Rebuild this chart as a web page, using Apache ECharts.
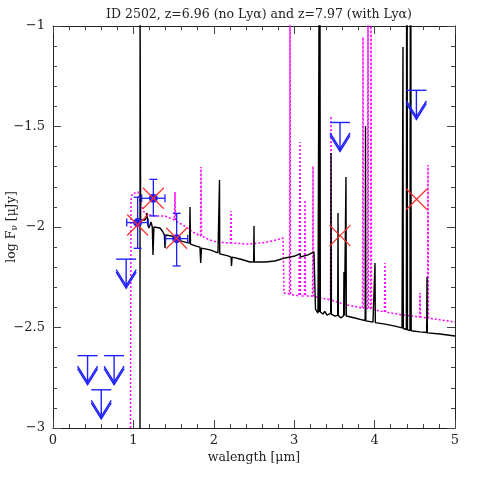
<!DOCTYPE html>
<html>
<head>
<meta charset="utf-8">
<script src="https://cdn.jsdelivr.net/npm/echarts@6/dist/echarts.min.js"></script>
<style>
  html, body { margin: 0; padding: 0; background: #fff; }
  #main { width: 480px; height: 480px; }
</style>
</head>
<body>
<div id="main"></div>
<script>
// model SED, z=6.96 (no Lya) -- [wavelength um, log Fnu]
const sedNoLya = [
  [1.082, -3.1], [1.083, -0.9], [1.090, -1.965], [1.144, -1.965], [1.160, -1.95], [1.169, -1.930],
  [1.180, -1.99], [1.194, -2.005], [1.219, -1.975], [1.235, -2.0], [1.244, -2.139], [1.255, -2.0],
  [1.269, -1.995], [1.331, -2.005], [1.368, -2.025], [1.385, -2.04], [1.393, -2.104], [1.400, -2.04],
  [1.418, -2.035], [1.480, -2.045], [1.555, -2.065], [1.642, -2.075], [1.698, -2.080], [1.704, -1.900],
  [1.710, -2.085], [1.779, -2.095], [1.828, -2.100], [1.837, -2.179], [1.847, -2.105], [1.953, -2.114],
  [2.052, -2.129], [2.068, -2.13], [2.071, -1.766], [2.074, -2.134], [2.177, -2.144], [2.215, -2.15],
  [2.220, -2.194], [2.228, -2.15], [2.326, -2.159], [2.450, -2.174], [2.496, -2.174], [2.500, -1.995],
  [2.504, -2.174], [2.637, -2.174], [2.761, -2.169], [2.886, -2.154], [3.010, -2.144], [3.072, -2.134],
  [3.078, -2.149], [3.172, -2.139], [3.246, -2.124], [3.258, -2.124], [3.265, -2.408], [3.296, -2.428],
  [3.306, -2.425], [3.309, -0.9], [3.313, -2.423], [3.318, -2.423], [3.321, -0.9], [3.325, -2.423],
  [3.358, -2.433], [3.380, -2.42], [3.408, -2.438], [3.454, -2.43], [3.458, -1.632], [3.462, -2.433],
  [3.507, -2.443], [3.541, -2.44], [3.545, -1.930], [3.549, -2.44], [3.582, -2.453], [3.615, -2.44],
  [3.619, -2.224], [3.625, -2.44], [3.640, -2.44], [3.644, -1.751], [3.648, -2.443], [3.669, -2.443],
  [3.756, -2.453], [3.856, -2.463], [3.883, -2.465], [3.887, -1.498], [3.891, -2.467], [3.980, -2.473],
  [4.001, -2.475], [4.005, -2.179], [4.009, -2.476], [4.030, -2.478], [4.129, -2.483], [4.254, -2.493],
  [4.341, -2.502], [4.349, -2.502], [4.353, -1.104], [4.357, -2.505], [4.395, -2.51], [4.398, -0.9],
  [4.402, -2.51], [4.405, -0.9], [4.409, -2.512], [4.440, -2.515], [4.444, -0.9], [4.448, -2.515],
  [4.451, -0.9], [4.455, -2.516], [4.565, -2.522], [4.648, -2.525], [4.652, -2.249], [4.656, -2.527],
  [4.813, -2.532], [5.0, -2.542]
];

// model SED, z=7.97 (with Lya)
const sedLya = [
  [0.964, -3.1], [0.970, -1.866], [0.985, -1.835], [1.007, -1.826], [1.057, -1.826], [1.095, -1.891],
  [1.144, -1.935], [1.269, -1.945], [1.393, -1.945], [1.511, -1.965], [1.517, -1.826], [1.523, -1.970],
  [1.617, -1.990], [1.741, -2.025], [1.835, -2.045], [1.841, -1.701], [1.847, -2.045], [1.953, -2.065],
  [2.040, -2.075], [2.208, -2.080], [2.214, -1.920], [2.220, -2.080], [2.450, -2.085], [2.662, -2.075],
  [2.823, -2.060], [2.861, -2.055], [2.873, -2.328], [2.942, -2.333], [2.948, -0.9], [2.954, -2.335],
  [3.060, -2.343], [3.072, -1.577], [3.078, -2.343], [3.128, -2.343], [3.134, -1.866], [3.140, -2.343],
  [3.228, -2.343], [3.234, -1.697], [3.240, -2.345], [3.451, -2.363], [3.458, -1.448], [3.464, -2.365],
  [3.657, -2.388], [3.849, -2.403], [3.856, -1.055], [3.862, -2.403], [3.912, -2.405], [3.918, -0.9],
  [3.924, -2.406], [3.949, -2.407], [3.955, -0.9], [3.961, -2.408], [4.123, -2.423], [4.129, -2.179],
  [4.135, -2.423], [4.353, -2.438], [4.558, -2.448], [4.565, -2.328], [4.571, -2.448], [4.658, -2.453],
  [4.664, -1.692], [4.670, -2.453], [5.0, -2.473]
];

// photometry: x, y, xlo, xhi, ylo, yhi
const detections = [
  [1.053, -1.978, 0.917, 1.185, -2.106, -1.852],
  [1.248, -1.857, 1.103, 1.393, -1.945, -1.763],
  [1.538, -2.058, 1.400, 1.675, -2.194, -1.932]
];

// upper limits: x, y
const upperLimits = [
  [0.43, -2.64], [0.76, -2.64], [0.60, -2.81], [0.91, -2.16], [3.57, -1.48], [4.52, -1.32]
];

// model fluxes in the bands (red crosses)
const modelFlux = [
  [1.053, -1.99], [1.248, -1.857], [1.538, -2.056], [3.57, -2.043], [4.523, -1.862]
];

const xTicks = [0, 1, 2, 3, 4, 5];
const yTicks = [-3, -2.5, -2, -1.5, -1];

const chart = echarts.init(document.getElementById('main'));
const font = 'DejaVu Serif';
const blue = '#1f1fff';
const red = '#ff2a2a';

function frameAxis(extra) {
  return Object.assign({
    type: 'value',
    axisLine: { show: true, onZero: false, lineStyle: { color: '#222', width: 1 } },
    axisTick: { show: true, inside: true, length: 8, lineStyle: { color: '#444' } },
    minorTick: { show: true, splitNumber: 5, length: 4, lineStyle: { color: '#444' } },
    splitLine: { show: false },
    minorSplitLine: { show: false }
  }, extra);
}

const fmt = v => String(v).replace('-', '\u2212');

const option = {
  animation: false,
  backgroundColor: '#fff',
  title: {
    text: 'ID 2502, z=6.96 (no Ly\u03b1) and z=7.97 (with Ly\u03b1)',
    left: 254, top: 3, textAlign: 'center',
    textStyle: { fontFamily: font, fontSize: 12.5, fontWeight: 'normal', color: '#222' }
  },
  grid: { left: 53, right: 25, top: 26, bottom: 52, outerBoundsMode: 'none' },
  xAxis: [
    frameAxis({
      min: xTicks[0], max: xTicks[xTicks.length - 1], interval: 1, position: 'bottom',
      axisLabel: { fontFamily: font, fontSize: 13, color: '#222', margin: 6, formatter: fmt },
      name: 'walength [\u03bcm]', nameLocation: 'middle', nameGap: 23, nameMoveOverlap: false,
      nameTextStyle: { fontFamily: font, fontSize: 12.5, color: '#222' }
    }),
    frameAxis({
      min: xTicks[0], max: xTicks[xTicks.length - 1], interval: 1, position: 'top',
      axisLabel: { show: false }
    })
  ],
  yAxis: [
    frameAxis({
      min: yTicks[0], max: yTicks[yTicks.length - 1], interval: 0.5, position: 'left',
      axisLabel: { fontFamily: font, fontSize: 13, color: '#222', margin: 8, formatter: fmt },
      name: '{n|log F}{s|\u03bd}{n| [\u03bcJy]}', nameLocation: 'middle', nameGap: 34, nameMoveOverlap: false,
      nameTextStyle: {
        rich: {
          n: { fontFamily: font, fontSize: 12.5, color: '#222' },
          s: { fontFamily: font, fontSize: 9, color: '#222', verticalAlign: 'bottom', padding: [6, 0, 0, 0] }
        }
      }
    }),
    frameAxis({
      min: yTicks[0], max: yTicks[yTicks.length - 1], interval: 0.5, position: 'right',
      axisLabel: { show: false }
    })
  ],
  series: [
    {
      type: 'line', data: sedLya, showSymbol: false, clip: true, z: 2,
      lineStyle: { color: '#ff00ff', width: 1.5, type: [2, 2] }
    },
    {
      type: 'line', data: sedNoLya, showSymbol: false, clip: true, z: 3,
      lineStyle: { color: '#000', width: 1.4 }
    },
    {
      type: 'custom', data: detections, z: 5,
      renderItem(params, api) {
        const x = api.value(0), y = api.value(1);
        const c = api.coord([x, y]);
        const l = api.coord([api.value(2), y]), r = api.coord([api.value(3), y]);
        const b = api.coord([x, api.value(4)]), t = api.coord([x, api.value(5)]);
        const st = { stroke: blue, lineWidth: 1.3 };
        const cap = 4;
        const ln = (x1, y1, x2, y2) => ({ type: 'line', shape: { x1, y1, x2, y2 }, style: st });
        return {
          type: 'group', children: [
            ln(l[0], c[1], r[0], c[1]),
            ln(c[0], t[1], c[0], b[1]),
            ln(l[0], c[1] - cap, l[0], c[1] + cap),
            ln(r[0], c[1] - cap, r[0], c[1] + cap),
            ln(c[0] - cap, t[1], c[0] + cap, t[1]),
            ln(c[0] - cap, b[1], c[0] + cap, b[1]),
            { type: 'circle', shape: { cx: c[0], cy: c[1], r: 4.5 }, style: { fill: blue } }
          ]
        };
      }
    },
    {
      type: 'custom', data: upperLimits, z: 5,
      renderItem(params, api) {
        const c = api.coord([api.value(0), api.value(1)]);
        const st = { stroke: blue, lineWidth: 1.4, fill: null };
        const v = dy => ({
          type: 'polyline',
          shape: { points: [[c[0] - 10, c[1] + 13 + dy], [c[0], c[1] + 29 + dy], [c[0] + 10, c[1] + 13 + dy]] },
          style: st
        });
        return {
          type: 'group', children: [
            { type: 'line', shape: { x1: c[0] - 10, y1: c[1], x2: c[0] + 10, y2: c[1] }, style: st },
            { type: 'line', shape: { x1: c[0], y1: c[1], x2: c[0], y2: c[1] + 29 }, style: st },
            v(0), v(-2.5)
          ]
        };
      }
    },
    {
      type: 'custom', data: modelFlux, z: 6,
      renderItem(params, api) {
        const c = api.coord([api.value(0), api.value(1)]);
        const st = { stroke: red, lineWidth: 1.1 };
        const d = 10.5;
        return {
          type: 'group', children: [
            { type: 'line', shape: { x1: c[0] - d, y1: c[1] - d, x2: c[0] + d, y2: c[1] + d }, style: st },
            { type: 'line', shape: { x1: c[0] - d, y1: c[1] + d, x2: c[0] + d, y2: c[1] - d }, style: st }
          ]
        };
      }
    }
  ]
};

chart.setOption(option);
</script>
</body>
</html>
